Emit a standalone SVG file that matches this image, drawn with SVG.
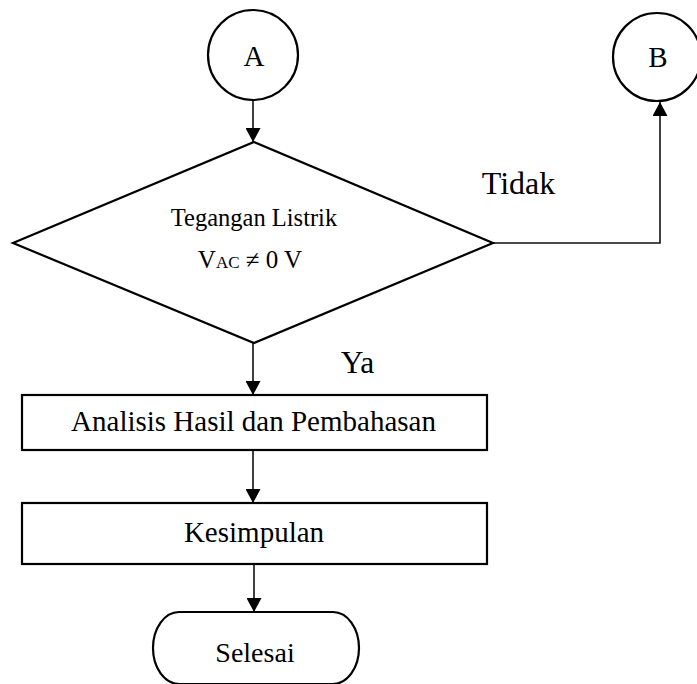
<svg xmlns="http://www.w3.org/2000/svg" width="697" height="684" viewBox="0 0 697 684">
<style>
.shape{fill:none;stroke:#000;stroke-width:2.2}
.conn{fill:none;stroke:#111;stroke-width:1.6}
.t{font-family:"Liberation Serif","Times New Roman",serif;fill:#000;text-anchor:middle}
</style>
<defs>
<marker id="arr" viewBox="0 0 14 15" refX="14" refY="7.5" markerWidth="14" markerHeight="15" markerUnits="userSpaceOnUse" orient="auto">
<path d="M0,0 L14,7.5 L0,15 Z" fill="#000"/>
</marker>
</defs>
<rect width="697" height="684" fill="#fff"/>
<g id="connectors">
<line class="conn" x1="253" y1="101" x2="253" y2="142" marker-end="url(#arr)"/>
<polyline class="conn" points="493,243 660,243 660,102" marker-end="url(#arr)"/>
<line class="conn" x1="253" y1="343" x2="253" y2="395" marker-end="url(#arr)"/>
<line class="conn" x1="253" y1="450" x2="253" y2="503" marker-end="url(#arr)"/>
<line class="conn" x1="254" y1="564" x2="254" y2="612" marker-end="url(#arr)"/>
<text class="t" x="518.5" y="194" font-size="32">Tidak</text>
<text class="t" x="357.5" y="373" font-size="31.5">Ya</text>
</g>
<g id="nodeA">
<circle class="shape" cx="253" cy="55" r="45"/>
<text class="t" x="254" y="66" font-size="29">A</text>
</g>
<g id="nodeB">
<circle class="shape" cx="657" cy="57" r="44"/>
<text class="t" x="658" y="67" font-size="29">B</text>
</g>
<g id="decision">
<polygon class="shape" points="254,142 493,243 254,343 13,243"/>
<text class="t" x="254" y="225.5" font-size="24.5">Tegangan Listrik</text>
<text class="t" x="250" y="268" font-size="25">V<tspan font-size="17">AC</tspan> ≠ 0 V</text>
</g>
<g id="analisis">
<rect class="shape" x="22" y="395" width="465" height="55"/>
<text class="t" x="253.5" y="431" font-size="29">Analisis Hasil dan Pembahasan</text>
</g>
<g id="kesimpulan">
<rect class="shape" x="22" y="503" width="465" height="61"/>
<text class="t" x="254" y="542" font-size="29">Kesimpulan</text>
</g>
<g id="selesai">
<rect class="shape" x="153" y="612" width="206" height="72" rx="26" ry="36"/>
<text class="t" x="255" y="662" font-size="28">Selesai</text>
</g>
</svg>
